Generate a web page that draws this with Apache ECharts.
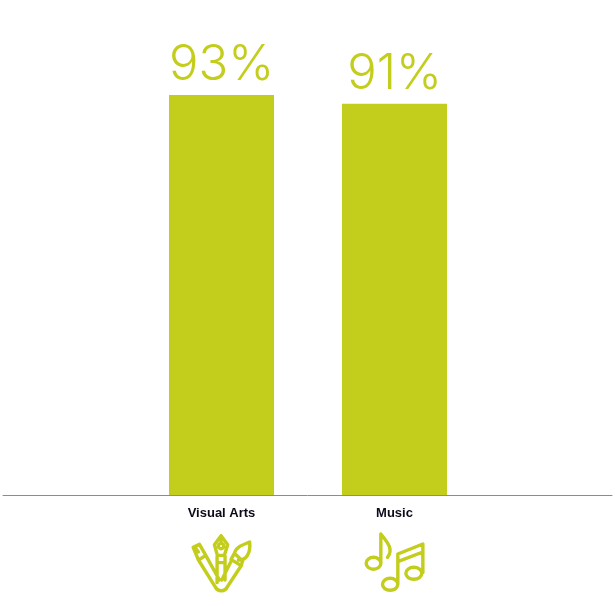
<!DOCTYPE html>
<html><head><meta charset="utf-8">
<style>html,body{margin:0;padding:0;background:#fff}#c{width:615px;height:606px}</style>
<script src="https://cdn.jsdelivr.net/npm/echarts@6/dist/echarts.min.js"></script>
</head><body><div id="c"></div>
<script>
const categories = ['Visual Arts', 'Music'];
const values = [93, 91];
const green = '#c3cd1c';
const artIcon = 'M100 17L120 44L110 76L89 76L80 44ZM100 17L100 40M92 48A8 8 0 1 0 108 48A8 8 0 1 0 92 48M88 78L88 158M112 78L112 150M88 98L112 98' +
  'M16 52L35 43L54 76L32 90ZM32 90L82 170C90 186 112 186 118 172L162 105M54 76L95 150M24 56L32 66' +
  'M140 70C145 50 165 45 186 36C190 70 175 92 152 90M130 88L140 70L165 93L160 107ZM132 90L102 150';
const musicIcon = 'M62 12L62 100M62 12C85 40 100 60 82 82M18 100A22 18 0 1 0 62 100A22 18 0 1 0 18 100' +
  'M67 163A23 18 0 1 0 113 163A23 18 0 1 0 67 163M137 130A24 18 0 1 0 185 130A24 18 0 1 0 137 130' +
  'M113 163L113 72L188 42L188 128M113 95L188 66';
const icons = [artIcon, musicIcon];
const chart = echarts.init(document.getElementById('c'), null, {renderer: 'canvas'});
chart.setOption({
  backgroundColor: '#fff',
  animation: false,
  grid: [
    {left: 135, width: 346, top: 65, height: 430},
    {left: 3, width: 609, top: 65, height: 430}
  ],
  xAxis: [
    {type: 'category', gridIndex: 0, data: categories,
     axisLine: {show: false}, axisTick: {show: false},
     axisLabel: {margin: 12, fontFamily: 'Liberation Sans', fontWeight: 'bold', fontSize: 13, color: '#0b0b1a', interval: 0}},
    {type: 'category', gridIndex: 1, data: [''],
     axisLine: {show: true, lineStyle: {color: '#8c8c8c', width: 1}}, axisTick: {show: false}, axisLabel: {show: false}}
  ],
  yAxis: [
    {type: 'value', gridIndex: 0, min: 0, max: 100, show: false},
    {type: 'value', gridIndex: 1, min: 0, max: 100, show: false}
  ],
  series: [{
    type: 'bar', xAxisIndex: 0, yAxisIndex: 0, data: values, barWidth: 105, itemStyle: {color: green},
    label: {show: true, position: 'top', distance: 5, formatter: '{c}%', fontFamily: 'Inter', fontWeight: 300, fontSize: 49, color: green}
  }, {
    type: 'custom', xAxisIndex: 0, yAxisIndex: 0, silent: true, clip: false,
    data: categories.map((c, i) => [i, 0]),
    renderItem: function (params, api) {
      const i = api.value(0);
      const p = api.coord([i, 0]);
      const w = i === 0 ? 56.7 : 56.7;
      const h = i === 0 ? 55 : 56.3;
      const top = i === 0 ? 40.7 : 39;
      return {
        type: 'path',
        shape: {pathData: icons[i], x: p[0] - w / 2, y: p[1] + top, width: w, height: h, layout: 'cover'},
        style: {fill: 'none', stroke: green, lineWidth: 3.4, lineJoin: 'round', lineCap: 'round'}
      };
    }
  }]
});
</script></body></html>
